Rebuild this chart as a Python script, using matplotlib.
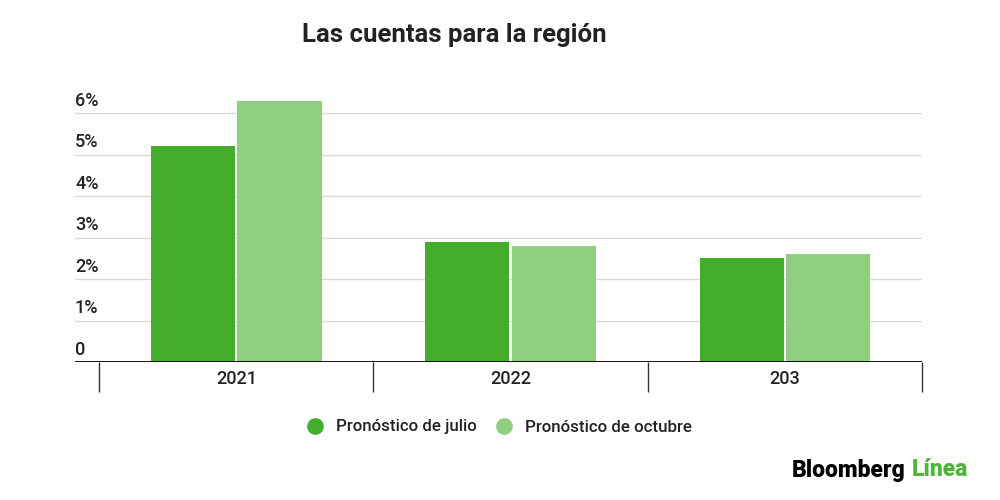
import matplotlib.pyplot as plt
import numpy as np
from matplotlib.lines import Line2D
from matplotlib import transforms

plt.rcParams['font.family'] = ['Roboto', 'DejaVu Sans']

# --- DATA ---
categories = ["2021", "2022", "203"]
julio = [5.2, 2.9, 2.5]
octubre = [6.3, 2.8, 2.6]
y_ticks = [0, 1, 2, 3, 4, 5, 6]
y_labels = ["0", "1%", "2%", "3%", "4%", "5%", "6%"]
series_names = ["Pronóstico de julio", "Pronóstico de octubre"]

DARK = "#44ae2c"
LIGHT = "#8fcf7f"
TEXT = "#222222"

fig = plt.figure(figsize=(10, 5), dpi=100)
fig.patch.set_facecolor("white")

# axes: x 75..922 px, baseline at y=362, 41.5 px per 1%
ymax = 6.5
ax = fig.add_axes([0.075, 1 - 362 / 500, 0.847, ymax * 41.5 / 500])

x = np.arange(len(categories))
w = 0.307
ax.bar(x - w / 2 - 0.004, julio, width=w, color=DARK, zorder=3)
ax.bar(x + w / 2 + 0.004, octubre, width=w, color=LIGHT, zorder=3)

ax.set_xlim(-0.588, 2.5)
ax.set_ylim(0, ymax)

# gridlines
for t in y_ticks[1:]:
    ax.axhline(t, color="#d9d9d9", lw=1, zorder=1)
ax.axhline(0, color="black", lw=1.3, zorder=4)

# y labels sitting above their gridlines
trans = transforms.blended_transform_factory(ax.transAxes, ax.transData)
for t, lab in zip(y_ticks, y_labels):
    ax.annotate(lab, (0, t), xycoords=trans, xytext=(0, 2.5), textcoords="offset points",
                ha="left", va="bottom", fontsize=13, fontweight="medium", color=TEXT)

for s in ax.spines.values():
    s.set_visible(False)
ax.set_yticks([])

# category labels and separators
ax.set_xticks(x)
ax.set_xticklabels(categories, fontsize=13, fontweight="medium", color=TEXT)
ax.tick_params(axis="x", which="major", length=0, pad=6)
ax.set_xticks([-0.5, 0.5, 1.5, 2.5], minor=True)
ax.tick_params(axis="x", which="minor", length=21.6, width=1, color="#333333", direction="out")

# legend
handles = [Line2D([], [], marker="o", ls="none", markersize=11, color=c) for c in (DARK, LIGHT)]
fig.legend(handles, series_names, loc="center", bbox_to_anchor=(0.495, 1 - 427 / 500),
           ncol=2, frameon=False, handletextpad=0.25, columnspacing=0.6,
           labelcolor=TEXT, prop={"size": 12.2, "weight": "medium"})

# title
fig.text(0.454, 1 - 35 / 500, "Las cuentas para la región", ha="center", va="center",
         fontsize=18.5, fontweight="bold", color=TEXT)

# branding
t1 = fig.text(0.792, 1 - 470 / 500, "Bloomberg", ha="left", va="center",
              fontsize=16.5, fontweight="black", color="black")
fig.canvas.draw()
bb = t1.get_window_extent()
fig.text((bb.x1 + 6) / 1000, 1 - 470 / 500, "Línea", ha="left", va="center",
         fontsize=16.5, fontweight="black", color="#4cb53a")

fig.savefig("out.png", dpi=100, facecolor="white")
